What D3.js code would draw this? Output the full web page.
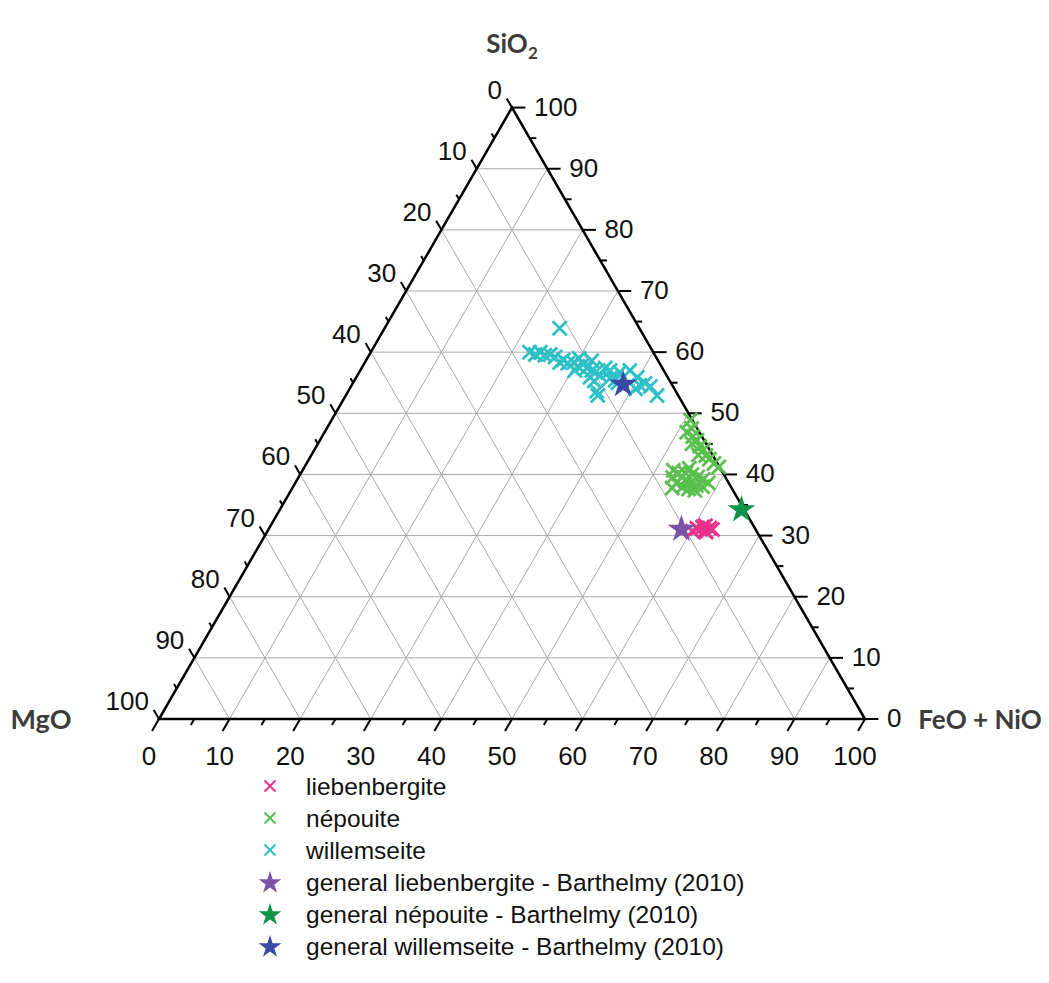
<!DOCTYPE html>
<html>
<head>
<meta charset="utf-8">
<script src="https://cdn.jsdelivr.net/npm/d3@7"></script>
<style>
  html, body { margin: 0; padding: 0; background: #fff; }
  svg { display: block; }
</style>
</head>
<body>
<svg id="chart" width="1049" height="983"></svg>
<script>
// ---- Data: each point = [MgO, SiO2, FeO + NiO] ----
const axisTicks = [0, 10, 20, 30, 40, 50, 60, 70, 80, 90, 100];
const minorTicks = [5, 15, 25, 35, 45, 55, 65, 75, 85, 95];

const liebenbergite = [
  [8.2, 31.2, 60.6], [7.3, 31.4, 61.3], [7.3, 30.8, 61.9], [6.4, 31.2, 62.4],
  [6.1, 31.0, 62.9], [9.1, 30.7, 60.2], [6.8, 31.6, 61.6], [7.2, 30.6, 62.2]
];

const nepouite = [
  [0.3, 48.9, 50.8], [0.8, 47.5, 51.7], [1.3, 46.2, 52.5], [1.0, 45.6, 53.4],
  [1.1, 44.6, 54.3], [0.9, 44.0, 55.1], [1.0, 43.1, 55.9], [0.8, 42.5, 56.7],
  [0.5, 41.8, 57.7], [0.1, 41.2, 58.7], [1.8, 46.9, 51.3], [2.0, 45.0, 53.0],
  [2.0, 43.2, 54.8],
  [6.8, 40.7, 52.5], [7.5, 39.5, 53.0], [6.3, 40.2, 53.5], [7.4, 38.6, 54.0],
  [5.3, 40.2, 54.5], [6.0, 39.0, 55.0], [6.8, 38.0, 55.2], [4.5, 40.0, 55.5],
  [5.5, 38.5, 56.0], [6.2, 37.6, 56.2], [3.9, 39.6, 56.5], [4.8, 38.2, 57.0],
  [5.4, 37.4, 57.2], [3.3, 39.2, 57.5], [4.0, 38.0, 58.0], [2.9, 38.6, 58.5],
  [4.4, 41.0, 54.6], [8.4, 37.8, 53.8]
];

const willemseite = [
  [11.3, 63.9, 24.8], [17.5, 60.0, 22.5], [16.9, 59.6, 23.5], [16.0, 60.0, 24.0],
  [15.6, 59.5, 24.9], [14.8, 59.6, 25.6], [14.3, 59.2, 26.5], [13.4, 58.7, 27.9],
  [13.0, 58.2, 28.8], [12.1, 58.3, 29.6], [11.8, 57.7, 30.5], [10.9, 58.0, 31.1],
  [10.7, 57.4, 31.9], [10.2, 57.0, 32.8], [9.8, 56.7, 33.5], [9.4, 56.2, 34.4],
  [11.4, 52.9, 35.7], [8.3, 55.7, 36.0], [6.4, 56.7, 36.9], [4.8, 57.0, 38.2],
  [4.3, 55.9, 39.8], [3.7, 54.9, 41.4], [3.2, 54.4, 42.4], [3.0, 52.9, 44.1],
  [11.0, 59.0, 30.0], [9.4, 58.6, 32.0], [10.7, 55.3, 34.0], [11.2, 53.6, 35.2],
  [7.6, 57.0, 35.4], [7.5, 55.0, 37.5], [5.5, 54.0, 40.5],
  [12.6, 57.0, 30.4], [11.0, 55.9, 33.1], [8.1, 57.4, 34.5], [7.7, 55.4, 36.9],
  [14.1, 58.3, 27.6], [4.6, 54.6, 40.8]
];

const starLiebenbergite = [[10.4, 31.2, 58.4]];
const starNepouite = [[0.3, 34.4, 65.3]];
const starWillemseite = [[6.8, 54.9, 38.3]];

const legendLabels = [
  "liebenbergite", "népouite", "willemseite",
  "general liebenbergite - Barthelmy (2010)",
  "general népouite - Barthelmy (2010)",
  "general willemseite - Barthelmy (2010)"
];

(function () {
const svg = d3.select("#chart");
const leftX = 159, rightX = 865, bottomY = 719;
const side = rightX - leftX;
const topY = bottomY - side * Math.sqrt(3) / 2;

const xs = d3.scaleLinear().domain([0, 100]).range([leftX, rightX]);
const ys = d3.scaleLinear().domain([0, 100]).range([bottomY, topY]);
function pos(m, s, f) {
  const t = m + s + f;
  const S = s / t * 100, F = f / t * 100;
  return [xs(F + S / 2), ys(S)];
}

const gridColor = "#a8a8a8";
const g = svg.append("g");
axisTicks.slice(1, -1).forEach(v => {
  let a = pos(100 - v, v, 0), b = pos(0, v, 100 - v);
  g.append("line").attr("x1", a[0]).attr("y1", a[1]).attr("x2", b[0]).attr("y2", b[1])
    .attr("stroke", gridColor).attr("stroke-width", 1);
  a = pos(100 - v, 0, v); b = pos(0, 100 - v, v);
  g.append("line").attr("x1", a[0]).attr("y1", a[1]).attr("x2", b[0]).attr("y2", b[1])
    .attr("stroke", gridColor).attr("stroke-width", 1);
  a = pos(v, 100 - v, 0); b = pos(v, 0, 100 - v);
  g.append("line").attr("x1", a[0]).attr("y1", a[1]).attr("x2", b[0]).attr("y2", b[1])
    .attr("stroke", gridColor).attr("stroke-width", 1);
});

const tickG = svg.append("g").attr("stroke", "#000").attr("stroke-width", 2);
const c60 = 0.5, s60 = Math.sqrt(3) / 2;
function tickSet(vals, len) {
  vals.forEach(v => {
    let p = pos(100 - v, 0, v);
    tickG.append("line").attr("x1", p[0]).attr("y1", p[1])
      .attr("x2", p[0] - c60 * len).attr("y2", p[1] + s60 * len);
    p = pos(0, v, 100 - v);
    tickG.append("line").attr("x1", p[0]).attr("y1", p[1])
      .attr("x2", p[0] + len * 0.95).attr("y2", p[1]);
    p = pos(v, 100 - v, 0);
    tickG.append("line").attr("x1", p[0]).attr("y1", p[1])
      .attr("x2", p[0] - c60 * len * 0.75).attr("y2", p[1] - s60 * len * 0.75);
  });
}
tickSet(axisTicks, 14);
tickSet(minorTicks, 7);

const tri = [pos(100, 0, 0), pos(0, 0, 100), pos(0, 100, 0)];
svg.append("path")
  .attr("d", d3.line()(tri) + "Z")
  .attr("fill", "none").attr("stroke", "#000").attr("stroke-width", 2.5)
  .attr("stroke-linejoin", "miter");

const lab = svg.append("g").attr("font-family", "'Liberation Sans', Arial, sans-serif")
  .attr("font-size", 26).attr("fill", "#111");
axisTicks.forEach(v => {
  let p = pos(100 - v, 0, v);
  lab.append("text").attr("x", p[0] - 10).attr("y", 756)
    .attr("text-anchor", "middle").attr("dominant-baseline", "central").text(v);
  p = pos(0, v, 100 - v);
  lab.append("text").attr("x", p[0] + 22).attr("y", p[1] - 1)
    .attr("text-anchor", "start").attr("dominant-baseline", "central").text(v);
  p = pos(v, 100 - v, 0);
  lab.append("text").attr("x", p[0] - 10).attr("y", p[1] - 18)
    .attr("text-anchor", "end").attr("dominant-baseline", "central").text(v);
});

const tt = svg.append("g").attr("font-family", "Lato, 'Open Sans', sans-serif")
  .attr("font-weight", "bold").attr("font-size", 26).attr("fill", "#3c3c3c");
const si = tt.append("text").attr("x", 512).attr("y", 53).attr("text-anchor", "middle");
si.append("tspan").text("SiO");
si.append("tspan").attr("font-size", 17).attr("dy", 6).text("2");
tt.append("text").attr("x", 41).attr("y", 729).attr("text-anchor", "middle")
  .attr("font-size", 27).text("MgO");
tt.append("text").attr("x", 980).attr("y", 729).attr("text-anchor", "middle").text("FeO + NiO");

function cross(sel, size, color, sw) {
  const h = size / 2;
  sel.append("path")
    .attr("d", `M${-h},${-h}L${h},${h}M${-h},${h}L${h},${-h}`)
    .attr("stroke", color).attr("stroke-width", sw).attr("fill", "none");
}
const starPath = d3.symbol().type(d3.symbolStar);

const colX = { lieb: "#e8318a", nep: "#5bbf4f", wil: "#2ec0c6" };
const colStar = { lieb: "#7a52a6", nep: "#0f9447", wil: "#3b4aa5" };

function plotCross(data, color) {
  const gg = svg.append("g");
  data.forEach(d => {
    const p = pos(d[0], d[1], d[2]);
    const e = gg.append("g").attr("transform", `translate(${p[0]},${p[1]})`);
    cross(e, 14, color, 2.8);
  });
}
function plotStar(data, color) {
  data.forEach(d => {
    const p = pos(d[0], d[1], d[2]);
    svg.append("path").attr("d", starPath.size(240)())
      .attr("transform", `translate(${p[0]},${p[1] + 1})`)
      .attr("fill", color);
  });
}
plotCross(willemseite, colX.wil);
plotCross(nepouite, colX.nep);
plotCross(liebenbergite, colX.lieb);
plotStar(starLiebenbergite, colStar.lieb);
plotStar(starNepouite, colStar.nep);
plotStar(starWillemseite, colStar.wil);

const legendColors = [colX.lieb, colX.nep, colX.wil, colStar.lieb, colStar.nep, colStar.wil];
const lg = svg.append("g");
legendLabels.forEach((t, i) => {
  const y = 786 + i * 32;
  const e = lg.append("g").attr("transform", `translate(270,${y})`);
  if (i < 3) cross(e, 11, legendColors[i], 2);
  else e.append("path").attr("d", starPath.size(160)()).attr("transform", "translate(0,1)")
    .attr("fill", legendColors[i]);
  lg.append("text").attr("x", 306).attr("y", y).attr("dominant-baseline", "central")
    .attr("font-family", "'Liberation Sans', Arial, sans-serif").attr("font-size", 24.5)
    .attr("fill", "#111").text(t);
});
})();
</script>
</body>
</html>
